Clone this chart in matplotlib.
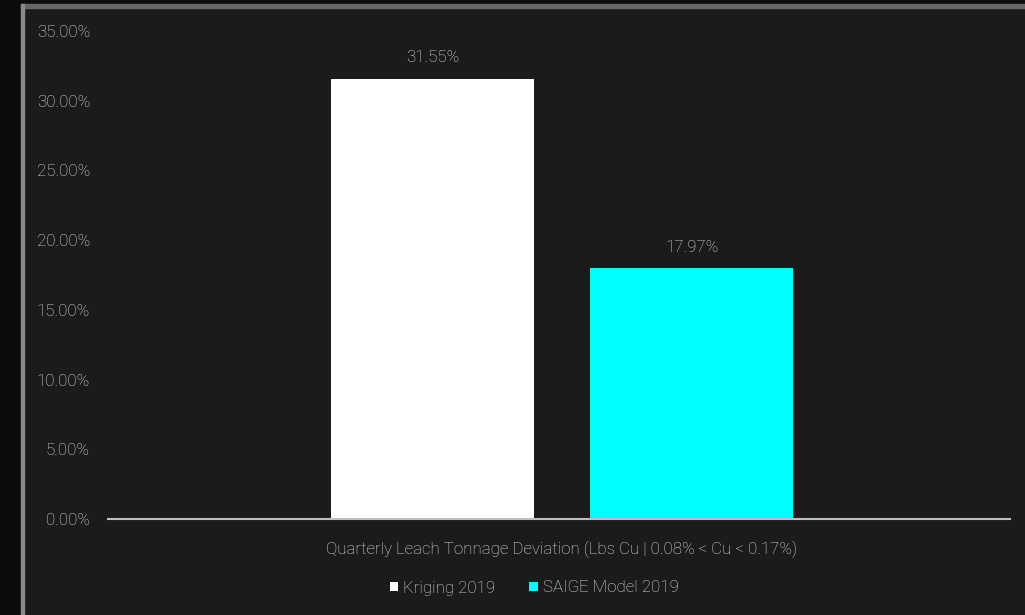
import matplotlib.pyplot as plt
from matplotlib.patches import Rectangle
from matplotlib.ticker import FuncFormatter

plt.rcParams['font.family'] = ['Roboto', 'DejaVu Sans']
plt.rcParams['font.weight'] = 'light'

series = ['Kriging 2019', 'SAIGE Model 2019']
valores = [31.55, 17.97]
cores = ['#ffffff', '#00ffff']
categoria = 'Quarterly Leach Tonnage Deviation (Lbs Cu | 0.08% < Cu < 0.17%)'
cor_texto = '#dedede'
fundo = '#1b1b1b'
tam = 12.2

fig = plt.figure(figsize=(10.25, 6.15), dpi=100)
fig.patch.set_facecolor(fundo)

# faixa escura e moldura cinza
W, H = 1025, 615
fig.patches.append(Rectangle((0, 0), 21 / W, 1, transform=fig.transFigure, color='#0c0c0c', zorder=0))
fig.patches.append(Rectangle((0, 1 - 4 / H), 1, 4 / H, transform=fig.transFigure, color='#0c0c0c', zorder=0))
fig.patches.append(Rectangle((21 / W, 1 - 8 / H), 1, 4 / H, transform=fig.transFigure, color='#666666', zorder=1))
fig.patches.append(Rectangle((21 / W, 0), 2.5 / W, 1 - 4 / H, transform=fig.transFigure, color='#8a8a8a', zorder=1))

ax = fig.add_axes([108 / W, 1 - 519 / H, (1010 - 108) / W, (519 - 31) / H])
ax.set_facecolor(fundo)

largura = 0.45
posicoes = [-0.28, 0.294]
for pos, v, c, s in zip(posicoes, valores, cores, series):
    ax.bar(pos, v, width=largura, color=c, label=s)
    ax.annotate(f'{v:.2f}%', (pos, v), xytext=(0, 10), textcoords='offset points',
                ha='center', va='bottom', color=cor_texto, fontsize=tam)

ax.set_xlim(-1, 1)
ax.set_ylim(0, 35)
ax.set_yticks(range(0, 36, 5))
ax.yaxis.set_major_formatter(FuncFormatter(lambda y, p: f'{y:.2f}%'))
ax.set_xticks([0.006])
ax.set_xticklabels([categoria])
ax.tick_params(axis='both', length=0, colors=cor_texto, labelsize=tam)
ax.tick_params(axis='y', pad=13)
ax.tick_params(axis='x', pad=16)
for lado in ['top', 'right', 'left']:
    ax.spines[lado].set_visible(False)
ax.spines['bottom'].set_color('#bfbfbf')
ax.spines['bottom'].set_linewidth(1.5)

fig.legend(loc='center', bbox_to_anchor=(534 / W, 1 - 588 / H), ncol=2, frameon=False,
           fontsize=tam, handlelength=0.5, handleheight=0.5, handletextpad=0.3,
           columnspacing=2.0, labelcolor=cor_texto)

fig.savefig('out.png', dpi=100, facecolor=fig.get_facecolor())
